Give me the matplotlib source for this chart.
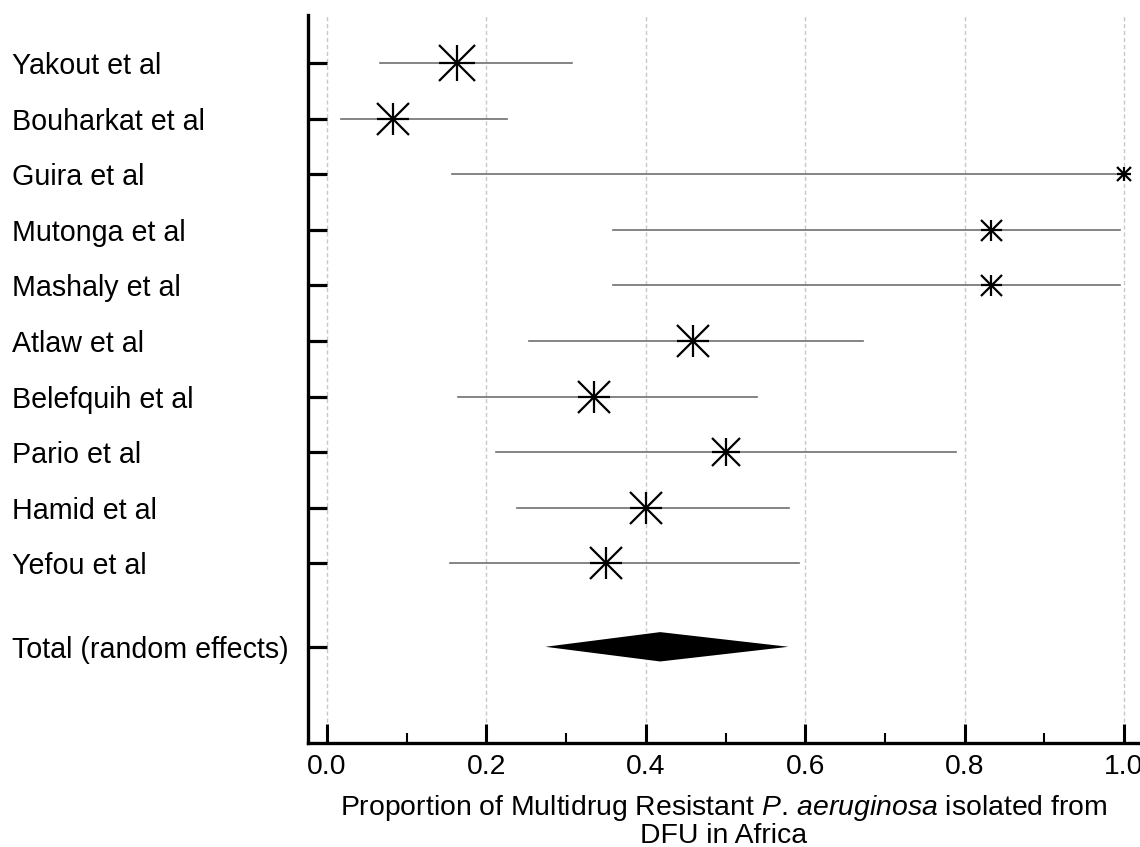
import numpy as np
import matplotlib
matplotlib.use("Agg")
import matplotlib.pyplot as plt

plt.rcParams['font.family'] = ['Liberation Sans', 'DejaVu Sans']
plt.rcParams['mathtext.fontset'] = 'custom'
plt.rcParams['mathtext.rm'] = 'Liberation Sans'
plt.rcParams['mathtext.it'] = 'Liberation Sans:italic'

# study data (proportion, 95% CI, relative weight in %)
studies = ['Yakout et al', 'Bouharkat et al', 'Guira et al', 'Mutonga et al',
           'Mashaly et al', 'Atlaw et al', 'Belefquih et al', 'Pario et al',
           'Hamid et al', 'Yefou et al']
prop = [0.163, 0.083, 1.000, 0.833, 0.833, 0.459, 0.335, 0.500, 0.400, 0.350]
ci_low = [0.067, 0.018, 0.157, 0.359, 0.359, 0.254, 0.164, 0.212, 0.239, 0.154]
ci_high = [0.308, 0.226, 1.000, 0.995, 0.995, 0.672, 0.540, 0.789, 0.580, 0.592]
weight = [12.6, 11.0, 4.5, 7.2, 7.2, 11.0, 11.0, 9.6, 11.0, 11.0]

total_label = 'Total (random effects)'
total_prop = 0.418
total_low = 0.274
total_high = 0.579

xticks = [0.0, 0.2, 0.4, 0.6, 0.8, 1.0]

fig = plt.figure(figsize=(11.4, 8.47), dpi=100)
ax = fig.add_axes([0.2702, 0.1228, 0.7298, 0.8595])

ypos = np.arange(len(studies))
total_y = len(studies) + 0.5

# grid
for xt in xticks:
    ax.axvline(xt, color='#c8c8c8', lw=1.0, ls=(0, (3, 2)), zorder=0)

# CI lines and markers
for i in range(len(studies)):
    ax.plot([ci_low[i], ci_high[i]], [ypos[i], ypos[i]], color='#707070', lw=1.2, zorder=2)
    ms = weight[i] * 2.1
    for m in ['+', 'x']:
        ax.plot(prop[i], ypos[i], marker=m, ms=ms, mew=1.6, color='black',
                ls='none', zorder=3, clip_on=False)

# pooled estimate diamond
h = 0.264
ax.fill([total_low, total_prop, total_high, total_prop],
        [total_y, total_y - h, total_y, total_y + h], color='black', lw=0, zorder=3)

ax.set_xlim(-0.0238, 1.020)
ax.set_ylim(12.23, -0.863)

ax.set_xticks(xticks)
ax.set_xticklabels([f'{v:.1f}' for v in xticks])
ax.set_xticks([0.1, 0.3, 0.5, 0.7, 0.9], minor=True)

ax.set_yticks(list(ypos) + [total_y])
ax.set_yticklabels(studies + [total_label])
for lab in ax.get_yticklabels():
    lab.set_horizontalalignment('left')

ax.tick_params(axis='y', direction='in', length=14, width=2.3, pad=213, labelsize=20.6)
ax.tick_params(axis='x', which='major', direction='in', length=14, width=2.2, pad=8, labelsize=20.3)
ax.tick_params(axis='x', which='minor', direction='in', length=7.5, width=1.5)

for s in ['top', 'right']:
    ax.spines[s].set_visible(False)
for s in ['left', 'bottom']:
    ax.spines[s].set_linewidth(2.4)

ax.set_xlabel('Proportion of Multidrug Resistant $\\it{P.\\!\\ aeruginosa}$ isolated from\nDFU in Africa',
              fontsize=20.4, linespacing=1.0, labelpad=9)

fig.savefig('out.png', dpi=100)
